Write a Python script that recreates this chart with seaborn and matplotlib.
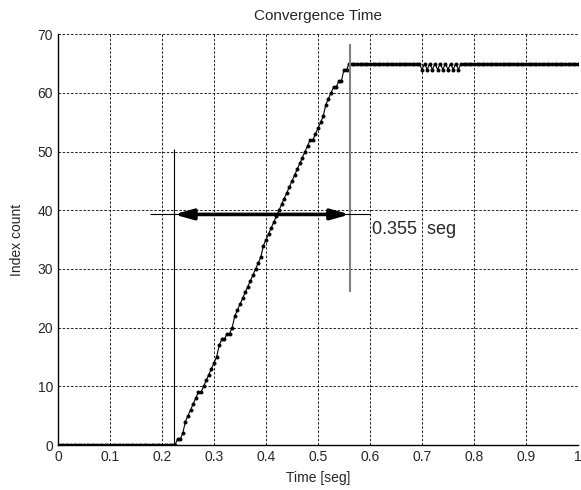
import numpy as np
import pandas as pd
import matplotlib
matplotlib.use("Agg")
import matplotlib.pyplot as plt
import seaborn as sns

# --- Data (sampled every 5 ms) ---
time_s = np.round(np.arange(0, 1.0001, 0.005), 3)

idle_counts = [0] * 46                      # 0.000 .. 0.225
ramp_counts = [1, 1, 2, 4, 5, 6, 7, 8, 9, 9,          # 0.230 .. 0.275
               10, 11, 12, 13, 14, 15, 17, 18, 18, 19,  # 0.280 .. 0.325
               19, 20, 22, 23, 24, 25, 26, 27, 28, 29,  # 0.330 .. 0.375
               30, 31, 32, 34, 35, 36, 37, 38, 39, 40,  # 0.380 .. 0.425
               41, 42, 43, 44, 45, 46, 47, 48, 49, 50,  # 0.430 .. 0.475
               51, 52, 52, 53, 54, 55, 56, 58, 59, 60,  # 0.480 .. 0.525
               61, 61, 62, 62, 64, 64]                  # 0.530 .. 0.555
settled_counts = [65] * 28                  # 0.560 .. 0.695
wobble_counts = [64, 65, 64, 65, 64, 65, 64, 65,
                 64, 65, 64, 65, 64, 65, 64, 65]  # 0.700 .. 0.775
final_counts = [65] * 45                    # 0.780 .. 1.000

index_count = idle_counts + ramp_counts + settled_counts + wobble_counts + final_counts

df = pd.DataFrame({"time": time_s, "count": index_count})

# annotation values
t_start = 0.223
t_end = 0.5615
arrow_level = 39.3
label_text = "0.355  seg"

x_ticks = [0, 0.1, 0.2, 0.3, 0.4, 0.5, 0.6, 0.7, 0.8, 0.9, 1]
x_tick_labels = ["0", "0.1", "0.2", "0.3", "0.4", "0.5", "0.6", "0.7", "0.8", "0.9", "1"]
y_ticks = [0, 10, 20, 30, 40, 50, 60, 70]

# --- Plot ---
sns.set_style("white")
plt.rcParams["font.family"] = ["Liberation Sans", "DejaVu Sans"]

fig = plt.figure(figsize=(5.81, 4.90), dpi=100)
ax = fig.add_axes([0.0998, 0.0918, 0.8950, 0.8382])

sns.lineplot(data=df, x="time", y="count", ax=ax, estimator=None, sort=False,
             color="black", linewidth=0.8, marker="o", markersize=2.1,
             markeredgecolor="black", markerfacecolor="black")

# reference lines and the double arrow
ax.vlines(t_start, 0, 50.5, color="black", linewidth=0.8)
ax.vlines(t_end, 26, 68.3, color="#808080", linewidth=1.5)
ax.hlines(39.45, 0.177, 0.6, color="black", linewidth=0.8)
ax.annotate("", xy=(t_start, arrow_level), xytext=(t_end, arrow_level),
            arrowprops=dict(arrowstyle="<|-|>,head_length=1.0,head_width=0.28",
                            mutation_scale=11, color="black", lw=2.6,
                            shrinkA=0, shrinkB=0))
ax.text(0.603, 36.8, label_text, fontsize=13, va="center", ha="left")

ax.set_xlim(0, 1)
ax.set_ylim(0, 70)
ax.set_xticks(x_ticks)
ax.set_xticklabels(x_tick_labels)
ax.set_yticks(y_ticks)
ax.tick_params(direction="in", length=4, labelsize=10, color="black")

ax.grid(True, color="black", linestyle=(0, (3, 2)), linewidth=0.6)
ax.set_axisbelow(True)
for side in ["top", "right"]:
    ax.spines[side].set_visible(False)
for side in ["left", "bottom"]:
    ax.spines[side].set_color("black")
    ax.spines[side].set_linewidth(1.0)

ax.set_title("Convergence Time", fontsize=11, pad=10)
ax.set_xlabel("Time [seg]", fontsize=10, labelpad=5)
ax.set_ylabel("Index count", fontsize=10, labelpad=10)

fig.savefig("out.png", dpi=100)
